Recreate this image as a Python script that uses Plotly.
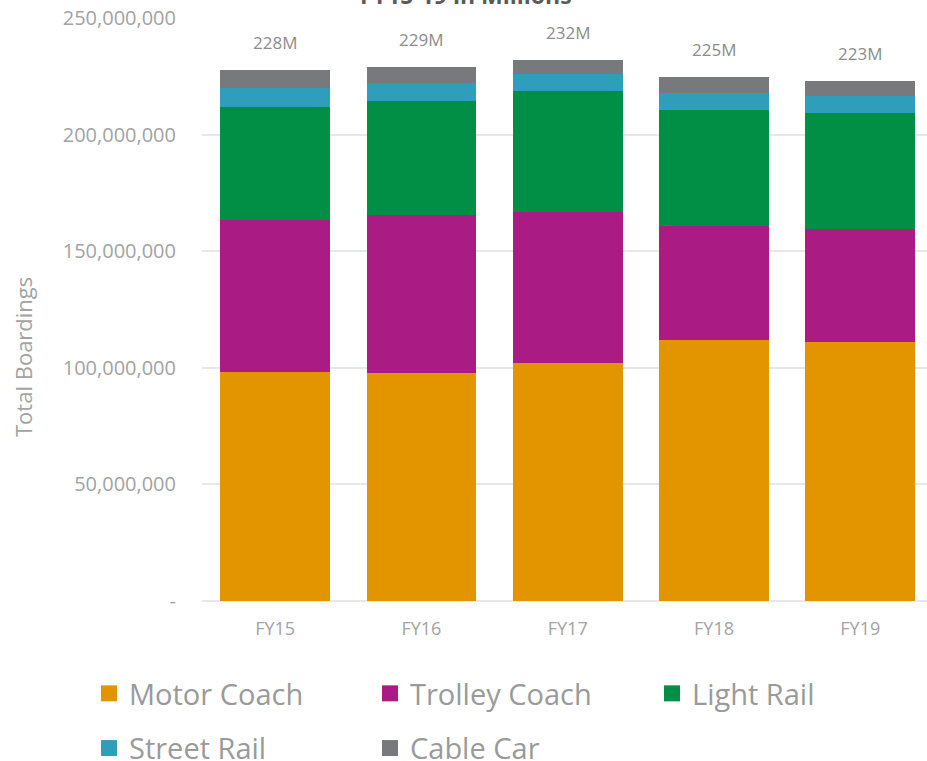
import plotly.graph_objects as go

years = ["FY15", "FY16", "FY17", "FY18", "FY19"]
motor_coach   = [98_300_000, 97_700_000, 101_900_000, 112_000_000, 110_900_000]
trolley_coach = [64_900_000, 67_700_000, 64_800_000, 48_800_000, 48_600_000]
light_rail    = [48_600_000, 48_800_000, 51_800_000, 49_600_000, 49_700_000]
street_rail   = [8_300_000, 8_000_000, 7_700_000, 7_600_000, 7_500_000]
cable_car     = [7_600_000, 6_800_000, 5_800_000, 6_700_000, 6_200_000]

series = [
    ("Motor Coach", motor_coach, "#E39500"),
    ("Trolley Coach", trolley_coach, "#AB1B84"),
    ("Light Rail", light_rail, "#008F45"),
    ("Street Rail", street_rail, "#2E9EBB"),
    ("Cable Car", cable_car, "#78797C"),
]
# legend column assignment (3 columns, 2 rows as in the reference)
legend_slot = {"Motor Coach": "legend", "Street Rail": "legend",
               "Trolley Coach": "legend2", "Cable Car": "legend2",
               "Light Rail": "legend3"}

y_tickvals = [0, 50_000_000, 100_000_000, 150_000_000, 200_000_000, 250_000_000]
y_ticktext = ["-", "50,000,000", "100,000,000", "150,000,000", "200,000,000", "250,000,000"]

FONT = "Open Sans"
GRAY = "#A3A3A3"
W, H = 927, 761
ML, MT, MB = 202, 18, 160
PW, PH = W - ML, H - MT - MB

fig = go.Figure()
for name, vals, color in series:
    fig.add_trace(go.Bar(x=years, y=vals, name=name, showlegend=False,
                         marker=dict(color=color, line=dict(width=0)), hoverinfo="skip"))
for name, vals, color in series:
    # legend-only swatch (point hidden via unselected opacity)
    fig.add_trace(go.Scatter(x=[years[0]], y=[vals[0]], mode="markers", name=name,
                             legend=legend_slot[name], legendgroup=name,
                             hoverinfo="skip",
                             marker=dict(symbol="square", size=16, color=color, opacity=1),
                             selectedpoints=[], unselected=dict(marker=dict(opacity=0))))

totals = [sum(v) for v in zip(*[s[1] for s in series])]
for yr, t in zip(years, totals):
    fig.add_annotation(x=yr, y=t, text=f"{round(t/1e6)}M", showarrow=False,
                       yanchor="bottom", yshift=14,
                       font=dict(family=FONT, size=17, color="#8C8C8C"))

fig.add_annotation(xref="paper", yref="paper", x=(466 - ML) / PW, y=1.0, yshift=5,
                   text="<b>FY15-19 in Millions</b>", showarrow=False,
                   yanchor="bottom", xanchor="center",
                   font=dict(family=FONT, size=23, color="#5A5A5A"))

fig.add_annotation(xref="paper", yref="paper", x=(23 - ML) / PW, y=(H - MB - 357) / PH,
                   text="Total Boardings", textangle=-90, showarrow=False,
                   xanchor="center", yanchor="middle",
                   font=dict(family=FONT, size=22, color=GRAY))

leg_common = dict(orientation="v", xref="container", yref="container",
                  xanchor="left", yanchor="top", traceorder="grouped",
                  tracegroupgap=14, bgcolor="rgba(0,0,0,0)",
                  font=dict(family=FONT, size=29, color="#9A9A9A"))
leg_top = 1 - 668 / H
fig.update_layout(
    width=W, height=H,
    margin=dict(l=ML, r=0, t=MT, b=MB, pad=0, autoexpand=False),
    paper_bgcolor="white", plot_bgcolor="white",
    barmode="stack", bargap=0.25,
    font=dict(family=FONT, color=GRAY),
    showlegend=True,
    legend=dict(x=89 / W, y=leg_top, **leg_common),
    legend2=dict(x=370 / W, y=leg_top, **leg_common),
    legend3=dict(x=652 / W, y=leg_top, **leg_common),
)
fig.update_xaxes(type="category", categoryorder="array", categoryarray=years,
                 range=[-0.5, 4.456], showline=False, ticks="", showgrid=False,
                 automargin=False,
                 tickfont=dict(family=FONT, size=18, color=GRAY), ticklabelstandoff=15)
fig.update_yaxes(range=[0, 250_000_000], tickvals=y_tickvals, ticktext=y_ticktext,
                 automargin=False,
                 showgrid=True, gridcolor="#E8E8E8", gridwidth=1.5,
                 zeroline=True, zerolinecolor="#E8E8E8", zerolinewidth=1.5,
                 tickfont=dict(family=FONT, size=20, color=GRAY),
                 ticks="outside", ticklen=21, tickcolor="rgba(0,0,0,0)")

fig.write_html("out.html")
